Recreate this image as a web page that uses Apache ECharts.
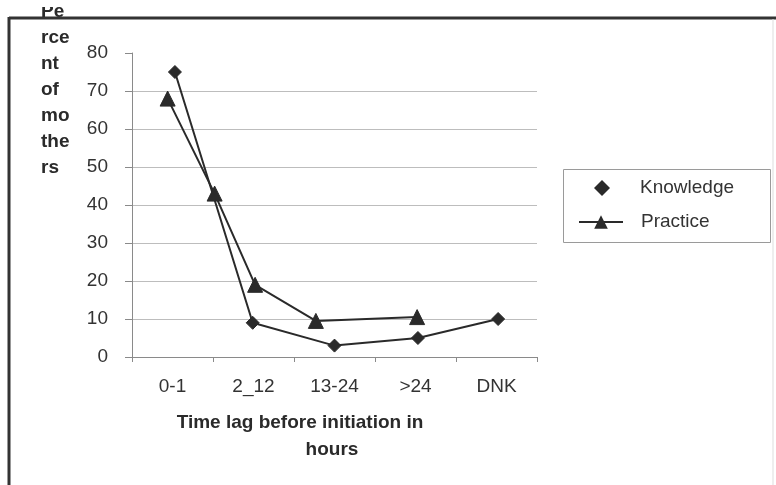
<!DOCTYPE html>
<html>
<head>
<meta charset="utf-8">
<script src="https://cdn.jsdelivr.net/npm/echarts@6/dist/echarts.min.js"></script>
<style>
  html, body { margin: 0; padding: 0; background: #fff; }
  #chart { width: 776px; height: 485px; }
</style>
</head>
<body>
<div id="chart"></div>
<script>
// Time-lag categories (hours) shown under the x axis
const categories = ['0-1', '2_12', '13-24', '>24', 'DNK'];
const yTicks = { min: 0, max: 80, interval: 10 };

// Knowledge: percent of mothers, placed along the time-lag scale
const knowledgeAt = [0.53, 1.49, 2.5, 3.53, 4.52];
const knowledgeValues = [75, 9, 3, 5, 10];

// Practice: percent of mothers (no DNK answer)
const practiceAt = [0.44, 1.02, 1.52, 2.27, 3.52];
const practiceValues = [68, 43, 19, 9.5, 10.5];

const pairs = (xs, ys) => xs.map((x, i) => [x, ys[i]]);

const FONT = '"Liberation Sans", Arial, sans-serif';
const ink = '#2a2a2a';
const legendText = { fontFamily: FONT, fontSize: 19, color: '#333', lineHeight: 20 };

const chart = echarts.init(document.getElementById('chart'), null, { renderer: 'canvas' });

chart.setOption({
  backgroundColor: '#ffffff',
  animation: false,
  grid: { left: 132, right: 239, top: 53, bottom: 128, containLabel: false },
  xAxis: [
    {
      type: 'category',
      data: categories,
      boundaryGap: true,
      axisLine: { lineStyle: { color: '#8a8a8a', width: 1 } },
      axisTick: { show: true, length: 5, lineStyle: { color: '#8a8a8a' } },
      axisLabel: { margin: 20, fontFamily: FONT, fontSize: 19, color: '#333' },
      splitLine: { show: false }
    },
    {
      type: 'value',
      min: 0,
      max: categories.length,
      show: false
    }
  ],
  yAxis: {
    type: 'value',
    min: yTicks.min,
    max: yTicks.max,
    interval: yTicks.interval,
    axisLine: { show: true, lineStyle: { color: '#8a8a8a', width: 1 } },
    axisTick: { show: true, length: 7, lineStyle: { color: '#8a8a8a' } },
    axisLabel: { margin: 24, fontFamily: FONT, fontSize: 19, color: '#333' },
    splitLine: { show: true, showMaxLine: false, lineStyle: { color: '#bdbdbd', width: 1 } }
  },
  legend: [
    {
      // marker-only key for Knowledge
      left: 589,
      top: 173,
      itemWidth: 16,
      itemHeight: 16,
      selectedMode: false,
      textStyle: Object.assign({ padding: [0, 0, 0, 25] }, legendText),
      data: [{ name: 'Knowledge', icon: 'diamond' }]
    },
    {
      // line-and-marker key for Practice
      left: 573,
      top: 207,
      itemWidth: 44,
      itemHeight: 17,
      selectedMode: false,
      textStyle: Object.assign({ padding: [0, 0, 0, 13] }, legendText),
      data: [{ name: 'Practice' }]
    }
  ],
  series: [
    {
      name: 'Knowledge',
      type: 'line',
      xAxisIndex: 1,
      data: pairs(knowledgeAt, knowledgeValues),
      symbol: 'diamond',
      symbolSize: 13,
      lineStyle: { color: ink, width: 2 },
      itemStyle: { color: ink, borderColor: ink },
      z: 3
    },
    {
      name: 'Practice',
      type: 'line',
      xAxisIndex: 1,
      data: pairs(practiceAt, practiceValues),
      symbol: 'triangle',
      symbolSize: 15,
      lineStyle: { color: ink, width: 2 },
      itemStyle: { color: ink, borderColor: ink },
      z: 4
    }
  ],
  graphic: [
    // y axis title, wrapped into short lines
    {
      type: 'text', left: 41, top: -1, silent: true, z: 10,
      style: { text: 'Pe\nrce\nnt\nof\nmo\nthe\nrs', fontFamily: FONT, fontSize: 19, fontWeight: 'bold', fill: '#2a2a2a', lineHeight: 26 }
    },
    // paper margin above the frame trims the first title line
    { type: 'rect', shape: { x: 0, y: 0, width: 776, height: 7 }, style: { fill: '#ffffff' }, silent: true, z: 11 },
    // outer frame of the figure
    { type: 'line', shape: { x1: 9, y1: 18, x2: 776, y2: 18 }, style: { stroke: '#333', lineWidth: 3 }, silent: true, z: 12 },
    { type: 'line', shape: { x1: 9, y1: 17, x2: 9, y2: 485 }, style: { stroke: '#333', lineWidth: 3 }, silent: true, z: 12 },
    { type: 'line', shape: { x1: 773, y1: 19, x2: 773, y2: 485 }, style: { stroke: '#dddddd', lineWidth: 1 }, silent: true, z: 12 },
    // legend box
    { type: 'rect', shape: { x: 563.5, y: 169.5, width: 207, height: 73 }, style: { fill: 'none', stroke: '#9a9a9a', lineWidth: 1 }, silent: true },
    // x axis title
    {
      type: 'text', silent: true, x: 300, y: 423,
      style: { text: 'Time lag before initiation in', fontFamily: FONT, fontSize: 19, fontWeight: 'bold', fill: '#2a2a2a', align: 'center', verticalAlign: 'middle' }
    },
    {
      type: 'text', silent: true, x: 332, y: 450,
      style: { text: 'hours', fontFamily: FONT, fontSize: 19, fontWeight: 'bold', fill: '#2a2a2a', align: 'center', verticalAlign: 'middle' }
    }
  ]
});
</script>
</body>
</html>
